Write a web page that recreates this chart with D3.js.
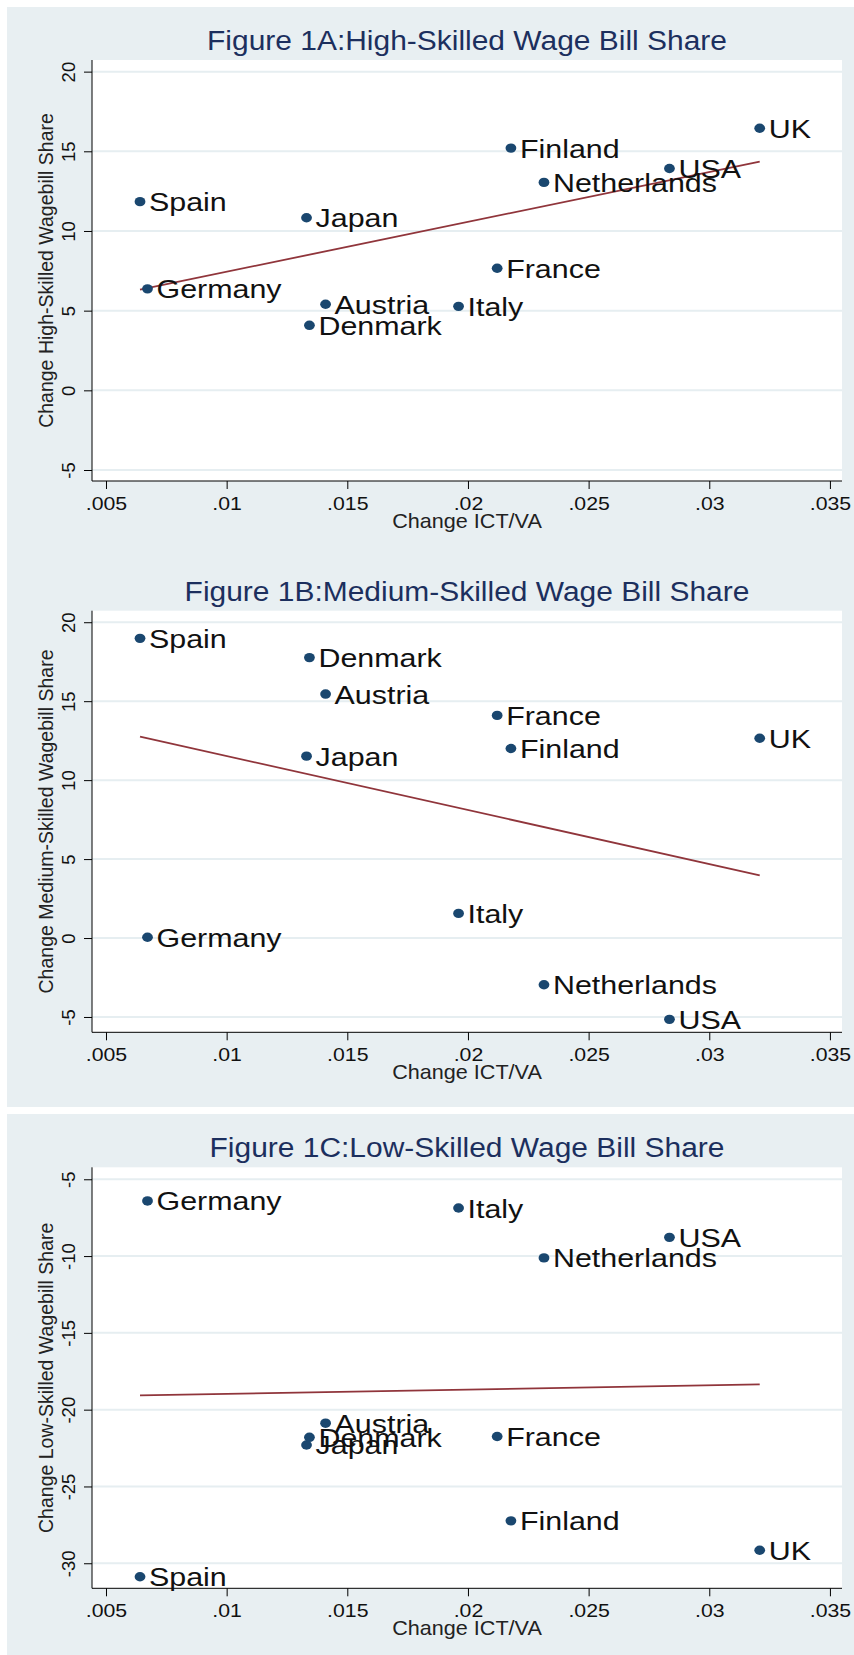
<!DOCTYPE html>
<html>
<head>
<meta charset="utf-8">
<script src="https://cdn.jsdelivr.net/npm/d3@7"></script>
<style>
  body { margin: 0; background: #ffffff; }
  svg { display: block; font-family: "Liberation Sans", Arial, sans-serif; }
</style>
</head>
<body>
<svg id="chart" width="854" height="1655"></svg>
<script>
// data
const countries = ["Spain", "Germany", "Japan", "Denmark", "Austria", "Italy", "France", "Finland", "Netherlands", "USA", "UK"]
const ictChange = [0.00641, 0.00672, 0.01331, 0.01343, 0.0141, 0.01961, 0.02121, 0.02178, 0.02315, 0.02835, 0.03209]
const highShare = [11.84, 6.37, 10.83, 4.08, 5.40, 5.27, 7.66, 15.2, 13.05, 13.92, 16.45]
const mediumShare = [18.98, 0.05, 11.52, 17.76, 15.45, 1.56, 14.10, 12.0, -2.96, -5.15, 12.65]
const lowShare = [-30.88, -6.41, -22.3, -21.80, -20.88, -6.87, -21.75, -27.24, -10.12, -8.78, -29.15]

const xTicks = [0.005, 0.01, 0.015, 0.02, 0.025, 0.03, 0.035]
const xTickLabels = [".005", ".01", ".015", ".02", ".025", ".03", ".035"]
const yTicksHigh = [-5, 0, 5, 10, 15, 20]
const yTicksMedium = [-5, 0, 5, 10, 15, 20]
const yTicksLow = [-30, -25, -20, -15, -10, -5]

const titles = ["Figure 1A:High-Skilled Wage Bill Share", "Figure 1B:Medium-Skilled Wage Bill Share", "Figure 1C:Low-Skilled Wage Bill Share"]
const yTitles = ["Change High-Skilled Wagebill Share", "Change Medium-Skilled Wagebill Share", "Change Low-Skilled Wagebill Share"]
const xTitle = "Change ICT/VA"

// layout of each panel (pixels)
var panels = [
  { values: highShare, yTicks: yTicksHigh, top: 60, bottom: 481, yDomain: [-5.69, 20.73] },
  { values: mediumShare, yTicks: yTicksMedium, top: 610.7, bottom: 1032.3, yDomain: [-5.97, 20.73] },
  { values: lowShare, yTicks: yTicksLow, top: 1167.3, bottom: 1588.3, yDomain: [-31.63, -4.22] }
]

var left = 92
var right = 842
var bgColor = "#e8eff2"
var navy = "#1a476f"
var maroon = "#90353b"

var svg = d3.select("#chart")

// grey graph regions (A and B are one block, C is separate)
svg.append("rect").attr("x", 7).attr("y", 7).attr("width", 847).attr("height", 1100).attr("fill", bgColor)
svg.append("rect").attr("x", 7).attr("y", 1114).attr("width", 847).attr("height", 541).attr("fill", bgColor)

var x = d3.scaleLinear().domain([0.00442, 0.0355]).range([left, right])

// least squares line, like Stata's lfit
function ols(xs, ys) {
  var mx = d3.mean(xs), my = d3.mean(ys)
  var sxy = 0, sxx = 0
  for (var i = 0; i < xs.length; i++) {
    sxy += (xs[i] - mx) * (ys[i] - my)
    sxx += (xs[i] - mx) * (xs[i] - mx)
  }
  var b = sxy / sxx
  return function(v) { return my + b * (v - mx) }
}

panels.forEach(function(p, k) {
  var y = d3.scaleLinear().domain(p.yDomain).range([p.bottom, p.top])
  var g = svg.append("g")

  // plot region
  g.append("rect")
    .attr("x", left).attr("y", p.top)
    .attr("width", right - left).attr("height", p.bottom - p.top)
    .attr("fill", "#ffffff")

  // grid
  g.selectAll(".grid")
    .data(p.yTicks)
    .enter()
    .append("line")
    .attr("x1", left).attr("x2", right)
    .attr("y1", function(d) { return y(d) })
    .attr("y2", function(d) { return y(d) })
    .attr("stroke", "#e6eef1")
    .attr("stroke-width", 2)

  // y axis
  var yAxis = d3.axisLeft(y).tickValues(p.yTicks).tickSize(8).tickSizeOuter(0).tickFormat(d3.format("d"))
  var ya = g.append("g").attr("transform", "translate(" + left + ",0)").call(yAxis)
  ya.select(".domain").attr("stroke", "#000").attr("d", "M0," + p.top + "V" + p.bottom)
  ya.selectAll(".tick line").attr("stroke", "#000")
  ya.selectAll(".tick text")
    .attr("x", null).attr("dy", null)
    .attr("text-anchor", "middle")
    .attr("transform", "translate(-17,0) rotate(-90)")
    .style("font-size", "18.5px")
    .attr("fill", "#111")
    .text(function(d) { return d3.format("d")(d).replace("−", "-") })

  // x axis
  var xAxis = d3.axisBottom(x).tickValues(xTicks).tickSize(8).tickSizeOuter(0)
    .tickFormat(function(d, i) { return xTickLabels[i] })
  var xa = g.append("g").attr("transform", "translate(0," + p.bottom + ")").call(xAxis)
  xa.select(".domain").attr("stroke", "#000").attr("d", "M" + left + ",0H" + right)
  xa.selectAll(".tick line").attr("stroke", "#000")
  xa.selectAll(".tick text")
    .attr("y", null).attr("dy", null)
    .attr("transform", "translate(0,29) scale(1.12,1)")
    .style("font-size", "19px")
    .attr("fill", "#111")

  // titles
  g.append("text")
    .attr("transform", "translate(" + (left + right) / 2 + "," + (p.top - 10) + ") scale(1.07,1)")
    .attr("text-anchor", "middle")
    .style("font-size", "28px")
    .attr("fill", "#1c2f5e")
    .text(titles[k])

  g.append("text")
    .attr("transform", "translate(" + (left + right) / 2 + "," + (p.bottom + 47) + ") scale(1.08,1)")
    .attr("text-anchor", "middle")
    .style("font-size", "20px")
    .attr("fill", "#222")
    .text(xTitle)

  g.append("text")
    .attr("transform", "translate(53," + (p.top + p.bottom) / 2 + ") rotate(-90)")
    .attr("text-anchor", "middle")
    .style("font-size", "19.5px")
    .attr("fill", "#222")
    .text(yTitles[k])

  // linear fit
  var fit = ols(ictChange, p.values)
  var xExt = d3.extent(ictChange)
  g.append("line")
    .attr("x1", x(xExt[0])).attr("y1", y(fit(xExt[0])))
    .attr("x2", x(xExt[1])).attr("y2", y(fit(xExt[1])))
    .attr("stroke", maroon)
    .attr("stroke-width", 1.8)

  // points
  var pts = countries.map(function(c, i) { return { name: c, x: ictChange[i], y: p.values[i] } })
  g.selectAll(".dot")
    .data(pts)
    .enter()
    .append("ellipse")
    .attr("cx", function(d) { return x(d.x) })
    .attr("cy", function(d) { return y(d.y) })
    .attr("rx", 5.4)
    .attr("ry", 4.7)
    .attr("fill", navy)

  g.selectAll(".lbl")
    .data(pts)
    .enter()
    .append("text")
    .attr("transform", function(d) {
      return "translate(" + (x(d.x) + 9) + "," + (y(d.y) + 9.5) + ") scale(1.17,1)"
    })
    .style("font-size", "26px")
    .attr("fill", "#111")
    .text(function(d) { return d.name })
})
</script>
</body>
</html>
